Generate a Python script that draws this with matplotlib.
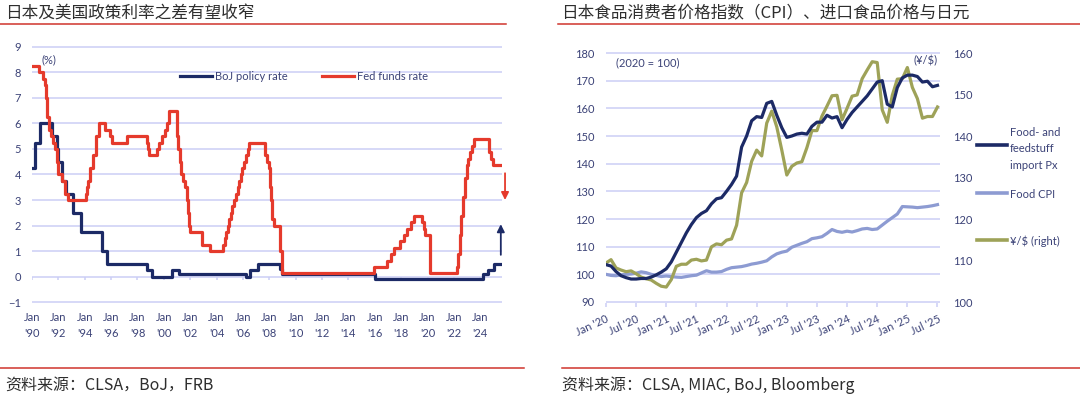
import numpy as np
import matplotlib
matplotlib.use("Agg")
import matplotlib.pyplot as plt
from matplotlib.lines import Line2D

# ---------------- data: left chart (policy rates, step changes) ----------------
fed_dates = [1990.00, 1990.55, 1990.83, 1990.95, 1991.05, 1991.12, 1991.30, 1991.45, 1991.62, 1991.78,
             1991.88, 1991.97, 1992.28, 1992.52, 1992.70, 1994.08, 1994.20, 1994.28, 1994.38, 1994.62,
             1994.88, 1995.08, 1995.50, 1995.95, 1996.08, 1997.20, 1998.72, 1998.80, 1998.88, 1999.50,
             1999.65, 1999.88, 2000.08, 2000.22, 2000.38, 2001.00, 2001.08, 2001.22, 2001.30, 2001.45,
             2001.62, 2001.72, 2001.80, 2001.88, 2001.95, 2002.87, 2003.48,
             2004.50, 2004.62, 2004.70, 2004.85, 2004.95, 2005.08, 2005.20, 2005.35, 2005.45, 2005.60,
             2005.70, 2005.85, 2005.95, 2006.08, 2006.20, 2006.35, 2006.48,
             2007.70, 2007.80, 2007.95, 2008.05, 2008.10, 2008.22, 2008.33, 2008.78, 2008.84, 2008.95,
             2015.95, 2016.95, 2017.20, 2017.45, 2017.95, 2018.20, 2018.45, 2018.72, 2018.97, 2019.58,
             2019.70, 2019.83, 2020.20, 2022.20, 2022.35, 2022.45, 2022.55, 2022.72, 2022.85, 2022.96,
             2023.10, 2023.22, 2023.35, 2023.55, 2024.70, 2024.85, 2024.96]
fed_rates = [8.25, 8.00, 7.75, 7.50, 7.00, 6.25, 5.75, 5.50, 5.25, 5.00,
             4.50, 4.00, 3.75, 3.25, 3.00, 3.25, 3.50, 3.75, 4.25, 4.75,
             5.50, 6.00, 5.75, 5.50, 5.25, 5.50, 5.25, 5.00, 4.75, 5.00,
             5.25, 5.50, 5.75, 6.00, 6.50, 5.50, 5.00, 4.50, 4.00, 3.75,
             3.50, 3.00, 2.50, 2.00, 1.75, 1.25, 1.00,
             1.25, 1.50, 1.75, 2.00, 2.25, 2.50, 2.75, 3.00, 3.25, 3.50,
             3.75, 4.00, 4.25, 4.50, 4.75, 5.00, 5.25,
             4.75, 4.50, 4.25, 3.50, 3.00, 2.25, 2.00, 1.50, 1.00, 0.125,
             0.375, 0.625, 0.875, 1.125, 1.375, 1.625, 1.875, 2.125, 2.375, 2.125,
             1.875, 1.625, 0.125, 0.375, 0.875, 1.625, 2.375, 3.125, 3.875, 4.375,
             4.625, 4.875, 5.125, 5.375, 4.875, 4.625, 4.375]

boj_dates = [1990.00, 1990.22, 1990.62, 1991.52, 1991.87, 1991.97, 1992.30, 1992.55, 1993.12, 1993.70,
             1995.28, 1995.70, 1998.70, 1999.12, 2000.62, 2001.12, 2006.20, 2006.50, 2007.12, 2008.80,
             2008.95, 2016.05, 2024.20, 2024.58, 2025.05]
boj_rates = [4.25, 5.25, 6.00, 5.50, 5.00, 4.50, 3.75, 3.25, 2.50, 1.75,
             1.00, 0.50, 0.25, 0.00, 0.25, 0.10, 0.00, 0.25, 0.50, 0.30,
             0.10, -0.10, 0.10, 0.25, 0.50]
left_end = 2025.65
left_years = list(range(1990, 2026, 2))
left_labels = ["Jan\n'%02d" % (y % 100) for y in left_years]
left_yticks = list(range(-1, 10))

# ---------------- data: right chart (monthly, Jan 2020 - Jul 2025) ----------------
food_import = [103.5, 103.0, 101.0, 99.5, 98.8, 98.3, 98.3, 98.5, 98.5, 99.0, 99.8, 100.8,
               102.0, 104.5, 108.0, 111.5, 115.0, 118.0, 120.5, 122.0, 123.0, 125.5, 127.3, 127.7,
               130.0, 132.5, 135.5, 146.0, 150.0, 155.5, 157.0, 156.7, 161.8, 162.5, 157.5, 153.0,
               149.5, 150.0, 150.7, 151.0, 150.7, 153.5, 155.0, 155.0, 157.5, 156.5, 157.0, 153.0,
               156.0, 158.5, 160.5, 162.5, 164.5, 167.0, 169.5, 170.0, 161.5, 160.5, 167.5, 171.0,
               172.0, 172.0, 171.5, 169.5, 169.8, 167.8, 168.3]
food_cpi = [100.0, 99.6, 99.5, 99.8, 100.0, 100.1, 100.4, 100.9, 100.6, 100.0, 99.6, 99.2,
            99.4, 99.2, 99.0, 98.9, 99.2, 99.5, 99.7, 100.5, 101.3, 100.8, 100.8, 101.0,
            101.8, 102.4, 102.6, 102.8, 103.2, 103.7, 104.0, 104.4, 104.9, 106.3, 107.4, 108.0,
            108.4, 109.8, 110.5, 111.2, 111.8, 112.9, 113.2, 113.6, 114.8, 116.2, 115.5, 115.2,
            115.6, 115.3, 115.8, 116.4, 116.6, 116.2, 116.4, 117.8, 119.2, 120.5, 121.8, 124.5,
            124.4, 124.3, 124.1, 124.3, 124.5, 124.8, 125.2]
usdjpy = [109.4, 110.2, 108.2, 107.7, 107.3, 107.5, 106.8, 106.0, 105.6, 105.3, 104.5, 103.8,
          103.6, 105.4, 108.6, 109.1, 109.1, 110.1, 110.3, 109.9, 110.1, 113.3, 114.0, 113.8,
          114.9, 115.2, 118.5, 126.3, 128.8, 133.9, 136.6, 135.2, 143.1, 146.0, 142.2, 136.6,
          130.6, 132.7, 133.5, 133.8, 137.2, 141.3, 141.3, 144.8, 147.2, 149.7, 149.8, 143.9,
          146.7, 149.6, 149.9, 153.8, 155.9, 157.9, 157.7, 146.3, 143.3, 149.8, 153.7, 153.8,
          156.5, 151.7, 149.0, 144.3, 144.7, 144.7, 147.0]
right_xlabels = ["Jan '20", "Jul '20", "Jan '21", "Jul '21", "Jan '22", "Jul '22",
                 "Jan '23", "Jul '23", "Jan '24", "Jul '24", "Jan '25", "Jul '25"]
right_yticks = list(range(90, 181, 10))
right_y2ticks = list(range(100, 161, 10))

# ---------------- styling ----------------
W, H = 1080, 398
NAVY = "#1C2A66"
RED = "#E53A2C"
CPI_BLUE = "#8D9BD2"
OLIVE = "#9EA258"
GRID = "#CBCEF5"
TXT = "#3B4277"
TITLE_C = "#2E2E2E"
RULE = "#D0342C"
LAT = "Lato"
CJK = ["Noto Sans CJK SC", "DejaVu Sans"]
FS = 8

plt.rcParams["font.family"] = [LAT, "DejaVu Sans"]

fig = plt.figure(figsize=(W / 100, H / 100), dpi=100)


def fx(px):
    return px / W


def fy(py):
    return 1 - py / H


# ---------------- left chart ----------------
ax_bottom_px = 303.3
ax_h_px = 257.6
ax1 = fig.add_axes([fx(32), fy(ax_bottom_px), 470 / W, ax_h_px / H])
ax1.set_xlim(1990, left_end)
ax1.set_ylim(-1.05, 9.05)
for s in ax1.spines.values():
    s.set_visible(False)
ax1.set_yticks(left_yticks)
ax1.grid(axis="y", color=GRID, lw=1.1)
ax1.set_axisbelow(True)
ax1.tick_params(axis="y", length=0, pad=8, labelsize=FS, labelcolor=TXT)
ax1.set_xticks(left_years, left_labels)
ax1.tick_params(axis="x", length=0, pad=6.5, labelsize=FS, labelcolor=TXT)
for lab in ax1.get_xticklabels():
    lab.set_linespacing(1.55)
ax1.vlines(left_years, -0.14, 0, color=GRID, lw=1.1, zorder=1)

boj_line, = ax1.step(boj_dates + [left_end], boj_rates + [boj_rates[-1]], where="post",
                     color=NAVY, lw=2.3, label="BoJ policy rate", zorder=3)
fed_line, = ax1.step(fed_dates + [left_end], fed_rates + [fed_rates[-1]], where="post",
                     color=RED, lw=2.3, label="Fed funds rate", zorder=4)

ax1.legend(handles=[boj_line, fed_line], ncol=2, loc="center left",
           bbox_to_anchor=(fx(180), fy(76)), bbox_transform=fig.transFigure,
           frameon=False, handlelength=2.9, handletextpad=0.25, columnspacing=3.1,
           borderpad=0, borderaxespad=0, fontsize=FS, labelcolor=TXT)
ax1.text(fx(42), fy(60), "(%)", transform=fig.transFigure, fontsize=FS, color=TXT,
         va="center", ha="left")

ax1.annotate("", xy=(2025.88, 3.0), xytext=(2025.88, 4.05),
             arrowprops=dict(arrowstyle="-|>", color=RED, lw=1.3, mutation_scale=11,
                             shrinkA=0, shrinkB=0), annotation_clip=False)
ax1.annotate("", xy=(2025.56, 2.05), xytext=(2025.56, 0.85),
             arrowprops=dict(arrowstyle="-|>", color=NAVY, lw=1.3, mutation_scale=11,
                             shrinkA=0, shrinkB=0), annotation_clip=False)

# ---------------- right chart ----------------
n = len(food_import)
xm = np.arange(n)
ax2 = fig.add_axes([fx(606), fy(ax_bottom_px), 334 / W, ax_h_px / H])
ax2.set_xlim(0, 66.5)
ax2.set_ylim(89.53, 182.64)
for s in ax2.spines.values():
    s.set_visible(False)
ax2.set_yticks(right_yticks)
ax2.grid(axis="y", color=GRID, lw=1.1)
ax2.set_axisbelow(True)
ax2.tick_params(axis="y", length=0, pad=8, labelsize=FS, labelcolor=TXT)
ax2.set_xticks(np.arange(0, n, 6), right_xlabels)
ax2.tick_params(axis="x", length=3, width=1.1, color=GRID, pad=4, labelsize=FS, labelcolor=TXT)
for lab in ax2.get_xticklabels():
    lab.set_rotation(25)
    lab.set_ha("right")
    lab.set_va("top")
    lab.set_rotation_mode("anchor")

ax2.plot(xm, food_cpi, color=CPI_BLUE, lw=2.3, zorder=3, solid_joinstyle="round")

ax3 = ax2.twinx()
ax3.set_ylim(99.687, 161.76)
for s in ax3.spines.values():
    s.set_visible(False)
ax3.set_yticks(right_y2ticks)
ax3.tick_params(axis="y", length=0, pad=9.5, labelsize=FS, labelcolor=TXT)
ax3.plot(xm, usdjpy, color=OLIVE, lw=2.3, zorder=3, solid_joinstyle="round")
# food import index drawn on top, still in the left-axis data coordinates
ax3.plot(xm, food_import, color=NAVY, lw=2.3, zorder=4, solid_joinstyle="round",
         transform=ax2.transData)

fig.text(fx(616), fy(63), "(2020 = 100)", fontsize=FS, color=TXT, va="center", ha="left")
fig.text(fx(913), fy(61), "(¥/$)", fontsize=FS, color=TXT, va="center", ha="left")

# manual legend on right
leg_items = [("Food- and\nfeedstuff\nimport Px", NAVY, 145),
             ("Food CPI", CPI_BLUE, 193),
             ("¥/$ (right)", OLIVE, 240)]
for label, col, ypx in leg_items:
    fig.add_artist(Line2D([fx(977), fx(1007)], [fy(ypx), fy(ypx)], color=col, lw=2.6,
                          transform=fig.transFigure))
    fig.text(fx(1010), fy(ypx), label, fontsize=FS, color=TXT, ha="left",
             va="center_baseline", linespacing=1.6)

# ---------------- titles, rules, sources ----------------
fig.text(fx(5), fy(14), "日本及美国政策利率之差有望收窄", family=CJK, fontsize=12,
         color=TITLE_C, va="center", ha="left")
fig.text(fx(561), fy(14), "日本食品消费者价格指数（CPI）、进口食品价格与日元", family=CJK,
         fontsize=12, color=TITLE_C, va="center", ha="left")
fig.add_artist(Line2D([0, fx(506)], [fy(23.5), fy(23.5)], color=RULE, lw=1.1,
                      transform=fig.transFigure))
fig.add_artist(Line2D([fx(558), 1], [fy(23.5), fy(23.5)], color=RULE, lw=1.1,
                      transform=fig.transFigure))
fig.add_artist(Line2D([0, fx(524)], [fy(368), fy(368)], color=RULE, lw=1.1,
                      transform=fig.transFigure))
fig.add_artist(Line2D([fx(562), 1], [fy(368), fy(368)], color=RULE, lw=1.1,
                      transform=fig.transFigure))
fig.text(fx(5), fy(385), "资料来源：CLSA，BoJ，FRB", family=CJK, fontsize=11.5,
         color=TITLE_C, va="center", ha="left")
fig.text(fx(562), fy(385), "资料来源：CLSA, MIAC, BoJ, Bloomberg", family=CJK, fontsize=11.5,
         color=TITLE_C, va="center", ha="left")

fig.savefig("out.png", dpi=100)
